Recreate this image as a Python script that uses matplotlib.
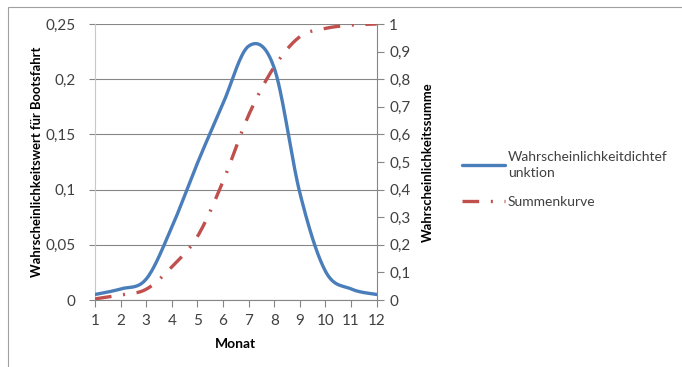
import numpy as np
import matplotlib.pyplot as plt
from matplotlib.patches import Rectangle
from matplotlib.ticker import FuncFormatter, MultipleLocator

plt.rcParams['font.family'] = ['Lato', 'DejaVu Sans']

months = [1, 2, 3, 4, 5, 6, 7, 8, 9, 10, 11, 12]
dichte = [0.005, 0.010, 0.019, 0.066, 0.124, 0.178, 0.230, 0.210, 0.097, 0.026, 0.010, 0.005]
summe = [0.004, 0.018, 0.039, 0.12, 0.23, 0.43, 0.67, 0.845, 0.954, 0.984, 0.996, 1.0]

BLUE = '#4A7EBB'
RED = '#C0504D'
GRID = '#868686'


def smooth(x, y, n=30):
    # Catmull-Rom spline through the points, like Excel's smoothed line
    x = np.asarray(x, float)
    y = np.asarray(y, float)
    px = np.concatenate([[x[0]], x, [x[-1]]])
    py = np.concatenate([[y[0]], y, [y[-1]]])
    xs, ys = [], []
    t = np.linspace(0, 1, n, endpoint=False)
    for i in range(1, len(px) - 2):
        for p, out in ((px, xs), (py, ys)):
            p0, p1, p2, p3 = p[i - 1], p[i], p[i + 1], p[i + 2]
            out.extend(0.5 * (2 * p1 + (-p0 + p2) * t
                              + (2 * p0 - 5 * p1 + 4 * p2 - p3) * t ** 2
                              + (-p0 + 3 * p1 - 3 * p2 + p3) * t ** 3))
    xs.append(x[-1])
    ys.append(y[-1])
    return np.array(xs), np.array(ys)


def comma(v, pos):
    s = ('%.2f' % v).rstrip('0').rstrip('.')
    return s.replace('.', ',')


fig = plt.figure(figsize=(6.82, 3.67), dpi=100)
fig.patches.append(Rectangle((8 / 682, -0.1), 2, 1 - 7 / 367 + 0.1, transform=fig.transFigure,
                             fill=False, edgecolor='#A0A0A0', linewidth=0.8))

ax = fig.add_axes([95 / 682, 1 - 300 / 367, (376.7 - 95) / 682, 276 / 367])
ax2 = ax.twinx()

xs, ys = smooth(months, dichte)
l1, = ax.plot(xs, ys, color=BLUE, linewidth=2.4, solid_capstyle='round', zorder=3)
xs, ys = smooth(months, summe)
l2, = ax2.plot(xs, ys, color=RED, linewidth=2.4, dashes=(5, 3.5, 0.6, 3.5))

ax.set_xlim(1, 12)
ax.set_ylim(0, 0.25)
ax2.set_ylim(0, 1)
ax.set_xticks(months)
ax.yaxis.set_major_locator(MultipleLocator(0.05))
ax2.yaxis.set_major_locator(MultipleLocator(0.1))
ax.yaxis.set_major_formatter(FuncFormatter(comma))
ax2.yaxis.set_major_formatter(FuncFormatter(comma))
ax.grid(axis='y', color=GRID, linewidth=0.8)
ax.set_axisbelow(True)

for a in (ax, ax2):
    for side in ('top', 'right', 'left', 'bottom'):
        a.spines[side].set_visible(False)
    a.tick_params(labelsize=11, colors='#404040', length=5, width=0.8, color=GRID, pad=4)
ax.spines['bottom'].set_visible(True)
ax.spines['bottom'].set_color(GRID)
ax.spines['left'].set_visible(True)
ax.spines['left'].set_color('#C8C8C8')
ax2.spines['right'].set_visible(True)
ax2.spines['right'].set_color(GRID)
ax.tick_params(axis='y', pad=10, length=4)
ax.tick_params(axis='x', pad=5)
for lab in ax.get_xticklabels() + ax.get_yticklabels() + ax2.get_yticklabels():
    lab.set_color('#404040')

ax.set_xlabel('Monat', fontsize=10, fontweight='bold', labelpad=7)
ax.set_ylabel('Wahrscheinlichkeitswert für Bootsfahrt', fontsize=9.4, fontweight='bold', labelpad=2)
ax2.set_ylabel('Wahrscheinlichkeitssumme', fontsize=9.4, fontweight='bold', labelpad=8)

leg = fig.legend([l1, l2], ['Wahrscheinlichkeitdichtef\nunktion', 'Summenkurve'],
                 loc='upper left', bbox_to_anchor=(462 / 682, 1 - 151 / 367),
                 frameon=False, fontsize=10, handlelength=3.1, borderpad=0,
                 borderaxespad=0, handletextpad=0.2, labelspacing=1.2,
                 labelcolor='#404040')
for t in leg.get_texts():
    t.set_linespacing(1.4)

fig.savefig('out.png', dpi=100)
